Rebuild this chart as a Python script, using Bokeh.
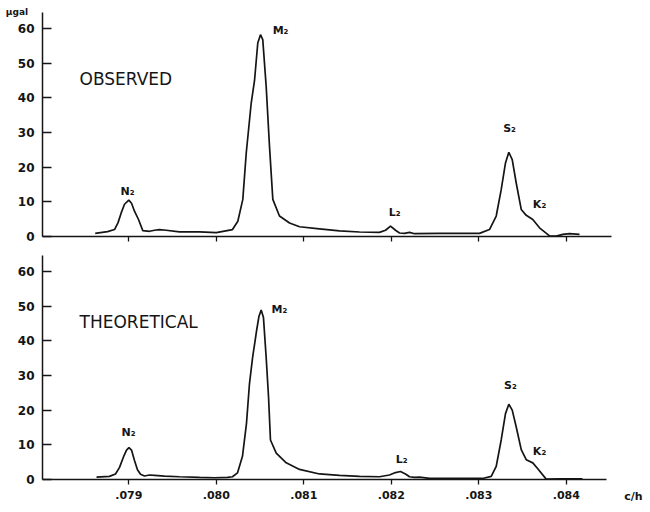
from bokeh.plotting import figure
from bokeh.layouts import column
from bokeh.models import Range1d, FixedTicker
from bokeh.core.properties import value
from bokeh.embed import file_html
from bokeh.resources import INLINE

# ---------------- data ----------------
obs_freq = [0.078616, 0.078757, 0.078837, 0.078877, 0.078913, 0.078951, 0.079000, 0.079031,
            0.079065, 0.079111, 0.079160, 0.079237, 0.079294, 0.079351, 0.079427, 0.079579,
            0.079808, 0.080000, 0.080185, 0.080246, 0.080303, 0.080342, 0.080399, 0.080437,
            0.080474, 0.080505, 0.080531, 0.080570, 0.080608, 0.080646, 0.080722, 0.080837,
            0.080951, 0.081179, 0.081408, 0.081637, 0.081865, 0.081934, 0.081991, 0.082048,
            0.082094, 0.082151, 0.082208, 0.082265, 0.082551, 0.082894, 0.083008, 0.083122,
            0.083199, 0.083256, 0.083305, 0.083343, 0.083382, 0.083427, 0.083485, 0.083542,
            0.083617, 0.083694, 0.083808, 0.083885, 0.083960, 0.084037, 0.084151]
obs_amp = [0.9, 1.4, 2.0, 4.0, 6.8, 9.3, 10.5, 9.6,
           7.3, 4.9, 1.7, 1.5, 1.8, 2.0, 1.8, 1.35,
           1.35, 1.1, 2.0, 4.4, 10.7, 24.0, 38.5, 45.0,
           55.8, 58.2, 56.8, 43.3, 26.0, 10.7, 5.9, 3.9,
           2.8, 2.2, 1.6, 1.3, 1.2, 1.8, 3.0, 1.8,
           1.0, 0.9, 1.2, 0.8, 0.9, 0.9, 0.9, 2.0,
           5.9, 13.5, 21.2, 24.3, 22.2, 15.5, 7.8, 6.1,
           4.9, 2.5, 0.2, 0.1, 0.6, 0.8, 0.6]

theo_freq = [0.078631, 0.078779, 0.078848, 0.078894, 0.078939, 0.078974, 0.079002, 0.079031,
             0.079065, 0.079099, 0.079134, 0.079179, 0.079237, 0.079294, 0.079408, 0.079579,
             0.079808, 0.079979, 0.080128, 0.080185, 0.080242, 0.080299, 0.080345, 0.080379,
             0.080415, 0.080460, 0.080488, 0.080513, 0.080539, 0.080570, 0.080597, 0.080619,
             0.080685, 0.080799, 0.080951, 0.081179, 0.081408, 0.081637, 0.081865, 0.081979,
             0.082048, 0.082105, 0.082162, 0.082208, 0.082265, 0.082322, 0.082437, 0.082779,
             0.083042, 0.083142, 0.083199, 0.083256, 0.083305, 0.083343, 0.083382, 0.083427,
             0.083485, 0.083542, 0.083617, 0.083674, 0.083770, 0.083922, 0.084185]
theo_amp = [0.7, 0.9, 1.6, 3.5, 6.5, 8.5, 9.2, 8.5,
            5.5, 2.8, 1.5, 1.0, 1.3, 1.2, 1.0, 0.8,
            0.6, 0.5, 0.6, 0.8, 1.9, 6.7, 16.2, 27.6,
            35.2, 42.9, 47.1, 48.9, 46.7, 35.2, 23.8, 11.4,
            7.6, 4.8, 2.9, 1.6, 1.2, 0.9, 0.8, 1.3,
            2.0, 2.3, 1.6, 0.8, 0.6, 0.7, 0.3, 0.3,
            0.3, 0.9, 3.8, 11.4, 19.0, 21.7, 20.0, 15.2,
            8.6, 5.7, 4.8, 3.1, 0.1, 0.2, 0.2]

x_ticks = [0.079, 0.080, 0.081, 0.082, 0.083, 0.084]
x_tick_labels = [".079", ".080", ".081", ".082", ".083", ".084"]
y_ticks = [0, 10, 20, 30, 40, 50, 60]

peak_names_obs = ["N\u2082", "M\u2082", "L\u2082", "S\u2082", "K\u2082"]
peak_names_theo = ["N\u2082", "M\u2082", "L\u2082", "S\u2082", "K\u2082"]
# label anchor positions (frequency, amplitude)
obs_label_x = [0.078986, 0.080734, 0.082037, 0.083351, 0.083694]
obs_label_y = [13.0, 59.4, 6.9, 31.2, 9.2]
theo_label_x = [0.078998, 0.080722, 0.082117, 0.083362, 0.083694]
theo_label_y = [13.6, 49.0, 5.8, 27.1, 8.1]

X_START, X_END = 0.0775337, 0.0849051
AXIS_X0 = 0.078014          # frequency where the amplitude axis stands
AXIS_TOP = 64.6             # top of the amplitude axis line
INK = "#151515"
FONT = "DejaVu Sans"


def make_panel(freq, amp, title, names, lx, ly, height, y_start, y_end, x_axis_end, show_labels):
    p = figure(width=645, height=height,
               x_range=Range1d(X_START, X_END), y_range=Range1d(y_start, y_end),
               output_backend="svg", toolbar_location=None,
               min_border=0, min_border_left=0, min_border_right=0,
               min_border_top=0, min_border_bottom=0,
               background_fill_color="white", border_fill_color="white")
    p.outline_line_color = None
    p.grid.visible = False

    p.line(freq, amp, line_color=INK, line_width=1.7)

    p.text(x=[0.078437], y=[45.3], text=[title],
           text_font=value(FONT), text_font_size="17px", text_color=INK,
           text_baseline="middle", text_align="left")
    p.text(x=lx, y=ly, text=names, text_font=value(FONT), text_font_size="11px",
           text_font_style="bold", text_color=INK, text_baseline="middle",
           text_align="center")

    xa = p.xaxis[0]
    xa.fixed_location = 0
    xa.ticker = FixedTicker(ticks=x_ticks)
    xa.bounds = (AXIS_X0, x_axis_end)
    xa.axis_line_color = INK
    xa.axis_line_width = 1.5
    xa.major_tick_line_color = INK
    xa.major_tick_line_width = 1.3
    xa.major_tick_in = 0
    xa.major_tick_out = 5
    xa.minor_tick_line_color = None
    xa.major_label_text_font = FONT
    xa.major_label_text_font_size = "11px"
    xa.major_label_text_font_style = "bold"
    xa.major_label_text_color = INK
    xa.major_label_standoff = 6
    if show_labels:
        xa.major_label_overrides = {t: s for t, s in zip(x_ticks, x_tick_labels)}
    else:
        xa.major_label_overrides = {t: "" for t in x_ticks}

    ya = p.yaxis[0]
    ya.fixed_location = AXIS_X0
    ya.ticker = FixedTicker(ticks=y_ticks)
    ya.bounds = (0, AXIS_TOP)
    ya.axis_line_color = INK
    ya.axis_line_width = 1.5
    ya.major_tick_line_color = INK
    ya.major_tick_line_width = 1.3
    ya.major_tick_in = 9
    ya.major_tick_out = 0
    ya.minor_tick_line_color = None
    ya.major_label_text_font = FONT
    ya.major_label_text_font_size = "12px"
    ya.major_label_text_font_style = "bold"
    ya.major_label_text_color = INK
    ya.major_label_standoff = 8
    return p


p1 = make_panel(obs_freq, obs_amp, "OBSERVED", peak_names_obs, obs_label_x, obs_label_y,
                245, -2.60, 68.07, 0.084516, False)
p2 = make_panel(theo_freq, theo_amp, "THEORETICAL", peak_names_theo, theo_label_x, theo_label_y,
                265, -8.94, 67.49, 0.084459, True)

p1.text(x=[0.077722], y=[64.75], text=["\u03bcgal"], text_font=value(FONT),
        text_font_size="9px", text_font_style="bold", text_color=INK,
        text_align="center", text_baseline="middle")
p2.text(x=[0.084768], y=[-4.9], text=["c/h"], text_font=value(FONT),
        text_font_size="11px", text_font_style="bold", text_color=INK,
        text_align="center", text_baseline="middle")

layout = column(p1, p2, spacing=0)
open("out.html", "w").write(file_html(layout, INLINE))
